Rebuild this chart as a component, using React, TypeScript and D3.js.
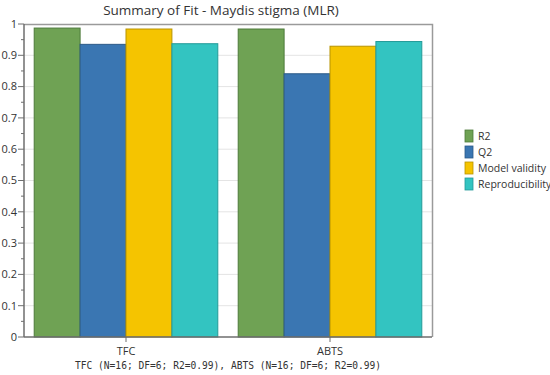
import { useRef, useEffect } from "react";
import * as d3 from "d3";

const categories = ["TFC", "ABTS"];
const seriesNames = ["R2", "Q2", "Model validity", "Reproducibility"];
const seriesColors = ["#6fa254", "#3a76b2", "#f5c400", "#33c4c1"];
const seriesStrokes = ["#4d7a3a", "#2c5a88", "#b89400", "#239a98"];
// values[series][category]
const r2Values = [0.987, 0.984];
const q2Values = [0.935, 0.841];
const validityValues = [0.984, 0.929];
const reproValues = [0.937, 0.944];
const yTicks = [0, 0.1, 0.2, 0.3, 0.4, 0.5, 0.6, 0.7, 0.8, 0.9, 1];
const title = "Summary of Fit - Maydis stigma (MLR)";
const footer = "TFC (N=16; DF=6; R2=0.99), ABTS (N=16; DF=6; R2=0.99)";

export default function App() {
  const ref = useRef<SVGSVGElement | null>(null);

  useEffect(() => {
    if (!ref.current) return;
    const W = 550;
    const H = 375;
    const left = 24;
    const right = 432;
    const top = 24;
    const bottom = 337;
    const font = "'Open Sans', 'Noto Sans', sans-serif";

    const svg = d3.select(ref.current);
    svg.selectAll("*").remove();
    svg.attr("width", W).attr("height", H);

    const allSeries = [r2Values, q2Values, validityValues, reproValues];

    const x0 = d3
      .scaleBand<string>()
      .domain(categories)
      .range([left, right])
      .paddingInner(0.1)
      .paddingOuter(0.05);
    const x1 = d3
      .scaleBand<string>()
      .domain(seriesNames)
      .range([0, x0.bandwidth()]);
    const y = d3.scaleLinear().domain([0, 1]).range([bottom, top]);

    // gridlines
    svg
      .append("g")
      .selectAll("line")
      .data(yTicks.slice(1, -1))
      .join("line")
      .attr("x1", left)
      .attr("x2", right)
      .attr("y1", (d) => y(d))
      .attr("y2", (d) => y(d))
      .attr("stroke", "#e4e4e4")
      .attr("stroke-width", 1);

    // frame top / right
    svg
      .append("path")
      .attr("d", `M${left},${top + 0.5}H${right + 0.5}V${bottom}`)
      .attr("fill", "none")
      .attr("stroke", "#9a9a9a")
      .attr("stroke-width", 1.5);

    // bars
    categories.forEach((cat, ci) => {
      const g = svg.append("g").attr("transform", `translate(${x0(cat)},0)`);
      seriesNames.forEach((name, si) => {
        const v = allSeries[si][ci];
        g.append("rect")
          .attr("x", x1(name)!)
          .attr("y", y(v))
          .attr("width", x1.bandwidth())
          .attr("height", y(0) - y(v))
          .attr("fill", seriesColors[si])
          .attr("stroke", seriesStrokes[si])
          .attr("stroke-width", 1);
      });
    });

    // y axis
    const yAxis = svg.append("g").attr("transform", `translate(${left},0)`);
    yAxis
      .append("line")
      .attr("x1", 0)
      .attr("x2", 0)
      .attr("y1", top)
      .attr("y2", bottom)
      .attr("stroke", "#6e6e6e")
      .attr("stroke-width", 1.5);
    yAxis
      .selectAll("line.major")
      .data(yTicks)
      .join("line")
      .attr("class", "major")
      .attr("x1", -6)
      .attr("x2", 0)
      .attr("y1", (d) => y(d))
      .attr("y2", (d) => y(d))
      .attr("stroke", "#6e6e6e");
    yAxis
      .selectAll("line.minor")
      .data(yTicks.slice(0, -1).map((d) => d + 0.05))
      .join("line")
      .attr("class", "minor")
      .attr("x1", -3)
      .attr("x2", 0)
      .attr("y1", (d) => y(d))
      .attr("y2", (d) => y(d))
      .attr("stroke", "#6e6e6e");
    yAxis
      .selectAll("text")
      .data(yTicks)
      .join("text")
      .attr("x", -7)
      .attr("y", (d) => y(d))
      .attr("dy", "0.35em")
      .attr("text-anchor", "end")
      .attr("font-family", font)
      .attr("font-size", 11)
      .attr("fill", "#333")
      .text((d) => d3.format("~g")(d));

    // x axis
    const xAxis = svg.append("g");
    xAxis
      .append("line")
      .attr("x1", left)
      .attr("x2", right)
      .attr("y1", bottom)
      .attr("y2", bottom)
      .attr("stroke", "#6e6e6e")
      .attr("stroke-width", 1.5);
    xAxis
      .selectAll("line.tick")
      .data(categories)
      .join("line")
      .attr("class", "tick")
      .attr("x1", (d) => x0(d)! + x0.bandwidth() / 2)
      .attr("x2", (d) => x0(d)! + x0.bandwidth() / 2)
      .attr("y1", bottom)
      .attr("y2", bottom + 5)
      .attr("stroke", "#6e6e6e");
    xAxis
      .selectAll("text")
      .data(categories)
      .join("text")
      .attr("x", (d) => x0(d)! + x0.bandwidth() / 2)
      .attr("y", bottom + 18)
      .attr("text-anchor", "middle")
      .attr("font-family", font)
      .attr("font-size", 11)
      .attr("fill", "#333")
      .text((d) => d);

    svg
      .append("text")
      .attr("x", (left + right) / 2)
      .attr("y", bottom + 32)
      .attr("text-anchor", "middle")
      .attr("font-family", "'DejaVu Sans Mono', monospace")
      .attr("font-size", 9.6)
      .attr("fill", "#333")
      .text(footer);

    // title
    svg
      .append("text")
      .attr("x", 221)
      .attr("y", 15)
      .attr("text-anchor", "middle")
      .attr("font-family", font)
      .attr("font-size", 13.5)
      .attr("fill", "#333")
      .text(title);

    // legend
    const legend = svg.append("g").attr("transform", "translate(465,130)");
    seriesNames.forEach((name, i) => {
      const row = legend.append("g").attr("transform", `translate(0,${i * 16})`);
      row
        .append("rect")
        .attr("width", 8)
        .attr("height", 12)
        .attr("fill", seriesColors[i])
        .attr("stroke", seriesStrokes[i])
        .attr("stroke-width", 0.8);
      row
        .append("text")
        .attr("x", 13)
        .attr("y", 6)
        .attr("dy", "0.35em")
        .attr("font-family", font)
        .attr("font-size", 10.5)
        .attr("fill", "#333")
        .text(name);
    });
  }, []);

  return (
    <svg
      ref={ref}
      style={{ position: "absolute", left: 0, top: 0, background: "#fff" }}
    />
  );
}
